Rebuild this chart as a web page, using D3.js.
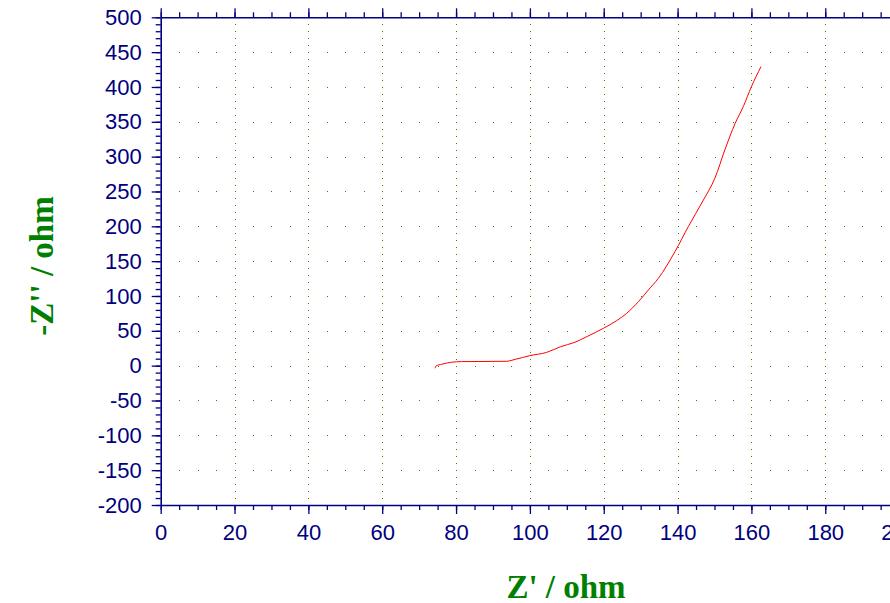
<!DOCTYPE html>
<html>
<head>
<meta charset="utf-8">
<script src="https://cdn.jsdelivr.net/npm/d3@7"></script>
<style>
  body { margin: 0; background: #fff; }
  svg { display: block; }
  .tick text { font-family: 'Liberation Sans Narrow', 'Arial Narrow', sans-serif; font-size: 22px; fill: #000080; }
  .axis path, .axis line { stroke: #000080; }
  .title { font-family: 'Liberation Serif', 'Times New Roman', serif; font-weight: bold; font-size: 33px; fill: #008000; }
</style>
</head>
<body>
<svg id="chart" width="890" height="603"></svg>
<script>
// impedance readings (ohm) taken off the plot
const zReal = [74.3, 74.6, 76.1, 78.8, 81.5, 93.7, 96, 100, 104.5, 108.2, 112.2, 115.4, 119.9, 123.5, 126.2, 129.4, 132.1, 134.8, 139.3, 142.9, 147, 150.1, 152.8, 155.6, 157.8, 160, 162.6];
const zImag = [-3.7, -0.4, 2, 4.9, 5.8, 6.3, 9, 14.4, 19, 27, 33.6, 41.6, 53.6, 64.6, 75, 91.9, 108.7, 125.4, 163.7, 199.5, 237.8, 269, 309.6, 347.9, 371.8, 400.5, 429.2];

// axis ranges and tick spacing
const xDomain = [0, 200];
const yDomain = [-200, 500];
const xMajor = d3.range(0, 201, 20);
const xMinor = d3.range(0, 201, 5);
const yMajor = d3.range(-200, 501, 50);
const yMinor = d3.range(-200, 501, 10);

const svg = d3.select('#chart');

const x = d3.scaleLinear().domain(xDomain).range([160.7, 160.7 + 200 * 3.692]);
const y = d3.scaleLinear().domain(yDomain).range([505, 17.3]);

const plotTop = y(yDomain[1]);
const plotBottom = y(yDomain[0]);
const plotLeft = x(xDomain[0]);

// ---- dotted grid: dots at minor steps along the major lines
const grid = svg.append('g').attr('fill', '#3f7f00');
xMajor.filter((v) => v > 0).forEach((xv) => {
  grid.selectAll(null)
    .data(yMinor.filter((v) => v > yDomain[0] && v < yDomain[1]))
    .enter()
    .append('rect')
    .attr('x', Math.round(x(xv)))
    .attr('y', (d) => Math.round(y(d)))
    .attr('width', 1)
    .attr('height', 1);
});
yMajor.filter((v) => v > yDomain[0] && v < yDomain[1]).forEach((yv) => {
  grid.selectAll(null)
    .data(xMinor.filter((v) => v > 0))
    .enter()
    .append('rect')
    .attr('x', (d) => Math.round(x(d)))
    .attr('y', Math.round(y(yv)))
    .attr('width', 1)
    .attr('height', 1);
});

// ---- axes (majors with labels, minors without)
// plain hyphen for negatives, like the original
const fmt = (d) => String(d);

function addAxis(axisFn, scale, major, minor, pos, withLabels) {
  const g = svg.append('g').attr('class', 'axis').attr('transform', pos);
  g.call(axisFn(scale).tickValues(minor).tickSize(5).tickSizeOuter(0).tickFormat(''));
  g.selectAll('path').remove();
  const g2 = svg.append('g').attr('class', 'axis').attr('transform', pos);
  g2.call(axisFn(scale).tickValues(major).tickSize(9).tickSizeOuter(0)
    .tickPadding(withLabels ? 10 : 0).tickFormat(withLabels ? fmt : ''));
  g2.selectAll('path').attr('stroke-width', 1.6);
  g2.selectAll('line').attr('stroke-width', 1.3);
  g.selectAll('line').attr('stroke-width', 1.3);
  return g2;
}

addAxis(d3.axisTop, x, xMajor, xMinor, `translate(0,${plotTop})`, false);
addAxis(d3.axisBottom, x, xMajor, xMinor, `translate(0,${plotBottom})`, true);
addAxis(d3.axisLeft, y, yMajor, yMinor, `translate(${plotLeft},0)`, true);

// ---- Nyquist curve
const line = d3.line()
  .x((d, i) => x(zReal[i]))
  .y((d) => y(d))
  .curve(d3.curveMonotoneX);

svg.append('path')
  .datum(zImag)
  .attr('fill', 'none')
  .attr('stroke', '#ff0000')
  .attr('stroke-width', 1)
  .attr('d', line);

// ---- axis titles
svg.append('text')
  .attr('class', 'title')
  .attr('x', 566)
  .attr('y', 598)
  .attr('text-anchor', 'middle')
  .text("Z' / ohm");

svg.append('text')
  .attr('class', 'title')
  .attr('transform', 'translate(53,266) rotate(-90)')
  .attr('text-anchor', 'middle')
  .text("-Z'' / ohm");
</script>
</body>
</html>
